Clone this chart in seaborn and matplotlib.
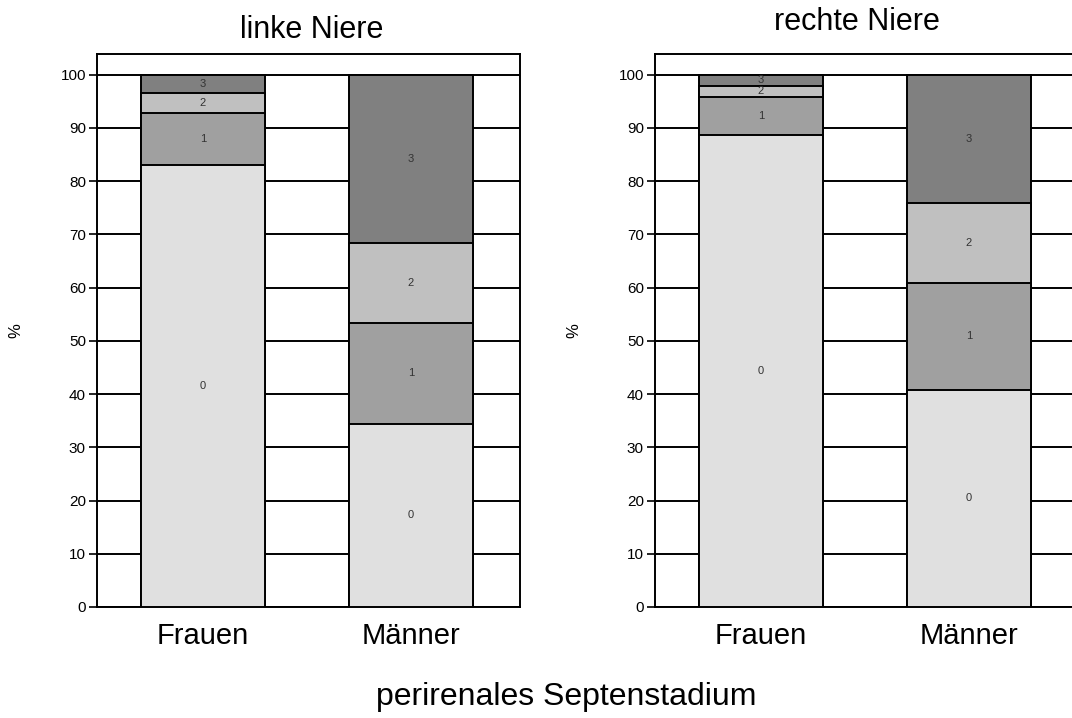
import matplotlib
matplotlib.use("Agg")
import matplotlib.pyplot as plt
import seaborn as sns
import pandas as pd
import numpy as np

sns.set_style("white")
plt.rcParams['font.family'] = ['Liberation Sans', 'DejaVu Sans']
plt.rcParams['text.color'] = 'black'
plt.rcParams['axes.labelcolor'] = 'black'
plt.rcParams['xtick.color'] = 'black'
plt.rcParams['ytick.color'] = 'black'

groups = ["Frauen", "Männer"]
stages = ["0", "1", "2", "3"]
stage_colors = ["#e0e0e0", "#a0a0a0", "#c0c0c0", "#808080"]

links_frauen = [83.1, 9.8, 3.7, 3.4]
links_maenner = [34.4, 19.0, 15.0, 31.6]
rechts_frauen = [88.7, 7.2, 2.0, 2.1]
rechts_maenner = [40.8, 20.1, 15.0, 24.1]

panel_titles = ["linke Niere", "rechte Niere"]
y_ticks = list(range(0, 101, 10))
x_label = "perirenales Septenstadium"

W, H = 1072, 718
fig = plt.figure(figsize=(W / 100, H / 100), dpi=100)

panels = [
    (links_frauen, links_maenner, 97, (312, 30)),
    (rechts_frauen, rechts_maenner, 655, (857, 22)),
]

for (fr, ma, left_px, title_xy), title in zip(panels, panel_titles):
    ax = fig.add_axes([left_px / W, 1 - 607 / H, 423 / W, (607 - 54) / H])
    vals = np.array([fr, ma])
    cum = np.cumsum(vals, axis=1)
    # gridlines behind bars
    for yv in y_ticks:
        ax.axhline(yv, color="black", lw=1.4, zorder=0)
    # stacked bars, drawn back to front using cumulative totals
    for k in range(len(stages) - 1, -1, -1):
        df = pd.DataFrame({"group": groups, "value": cum[:, k]})
        sns.barplot(data=df, x="group", y="value", color=stage_colors[k],
                    width=0.6, edgecolor="black", linewidth=1.4,
                    saturation=1, ax=ax, zorder=2 + (len(stages) - k))
    # segment labels
    for i in range(len(groups)):
        bottoms = np.concatenate([[0], cum[i, :-1]])
        for k in range(len(stages)):
            ax.text(i, bottoms[k] + vals[i, k] / 2, stages[k], ha="center",
                    va="center", fontsize=8, color="#333333", zorder=20)
    ax.set_xlim(-0.51, 1.524)
    ax.set_ylim(0, 103.9)
    ax.set_yticks(y_ticks)
    ax.set_yticklabels([str(v) for v in y_ticks], fontsize=11)
    ax.tick_params(axis="y", left=True, length=6, width=1.2, pad=2)
    ax.tick_params(axis="x", length=0, pad=11, labelsize=21)
    ax.set_xlabel("")
    ax.set_ylabel("%", fontsize=12)
    ax.yaxis.set_label_coords(-74 / 423, 0.5)
    for s in ax.spines.values():
        s.set_visible(True)
        s.set_color("black")
        s.set_linewidth(1.4)
    fig.text(title_xy[0] / W, 1 - title_xy[1] / H, title, ha="center",
             va="center", fontsize=22)

fig.text(566 / W, 1 - 697 / H, x_label, ha="center", va="center", fontsize=23)

fig.savefig("out.png", dpi=100)
